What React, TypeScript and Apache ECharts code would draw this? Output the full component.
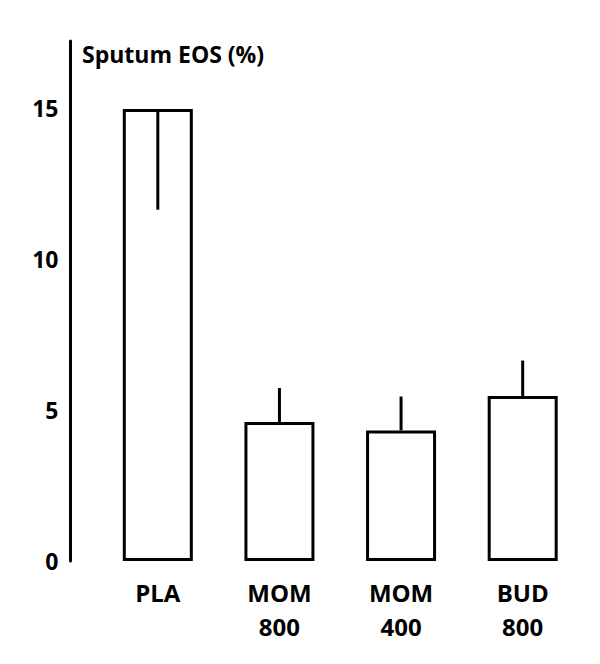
import React, { useEffect, useRef } from "react";
import * as echarts from "echarts";

const categories = ["PLA", "MOM\n800", "MOM\n400", "BUD\n800"];
const means = [14.95, 4.6, 4.32, 5.46];
const errorEnds = [11.62, 5.72, 5.44, 6.63];
const yTicks = [0, 5, 10, 15];
const yAxisTitle = "Sputum EOS (%)";

const FONT = "Open Sans";

export default function App() {
  const ref = useRef<HTMLDivElement>(null);
  useEffect(() => {
    if (!ref.current) return;
    const chart = echarts.init(ref.current, null, { renderer: "svg" });
    const option = {
      animation: false,
      backgroundColor: "#ffffff",
      title: {
        text: yAxisTitle,
        left: 82,
        top: 42,
        padding: 0,
        textStyle: { fontFamily: FONT, fontWeight: "bold", fontSize: 23, color: "#000" },
      },
      grid: { left: 97, right: 16.5, top: 41, bottom: 103, containLabel: false },
      xAxis: {
        type: "category",
        data: categories,
        axisLine: { show: false },
        axisTick: { show: false },
        axisLabel: {
          margin: 14,
          fontFamily: FONT,
          fontWeight: "bold",
          fontSize: 24,
          color: "#000",
          lineHeight: 34,
          verticalAlign: "top",
        },
      },
      yAxis: {
        type: "value",
        min: 0,
        max: 17.2,
        interval: 5,
        offset: 26.5,
        splitLine: { show: false },
        axisTick: { show: false },
        axisLine: { show: true, lineStyle: { color: "#000", width: 3 } },
        axisLabel: {
          margin: 12,
          fontFamily: FONT,
          fontWeight: "bold",
          fontSize: 23,
          color: "#000",
          formatter: (v: number) => (yTicks.includes(v) ? String(v) : ""),
        },
      },
      series: [
        {
          type: "bar",
          data: means,
          barWidth: 70,
          itemStyle: { color: "#fff", borderColor: "#000", borderWidth: 3 },
          z: 2,
        },
        {
          type: "custom",
          z: 3,
          data: means.map((m, i) => [i, m, errorEnds[i]]),
          renderItem: (params: any, api: any) => {
            const p1 = api.coord([api.value(0), api.value(1)]);
            const p2 = api.coord([api.value(0), api.value(2)]);
            return {
              type: "line",
              shape: { x1: p1[0], y1: p1[1], x2: p2[0], y2: p2[1] },
              style: { stroke: "#000", lineWidth: 3 },
            };
          },
        },
      ],
    };
    chart.setOption(option as any);
    return () => chart.dispose();
  }, []);
  return <div ref={ref} style={{ width: 600, height: 664, margin: -8 }} />;
}
